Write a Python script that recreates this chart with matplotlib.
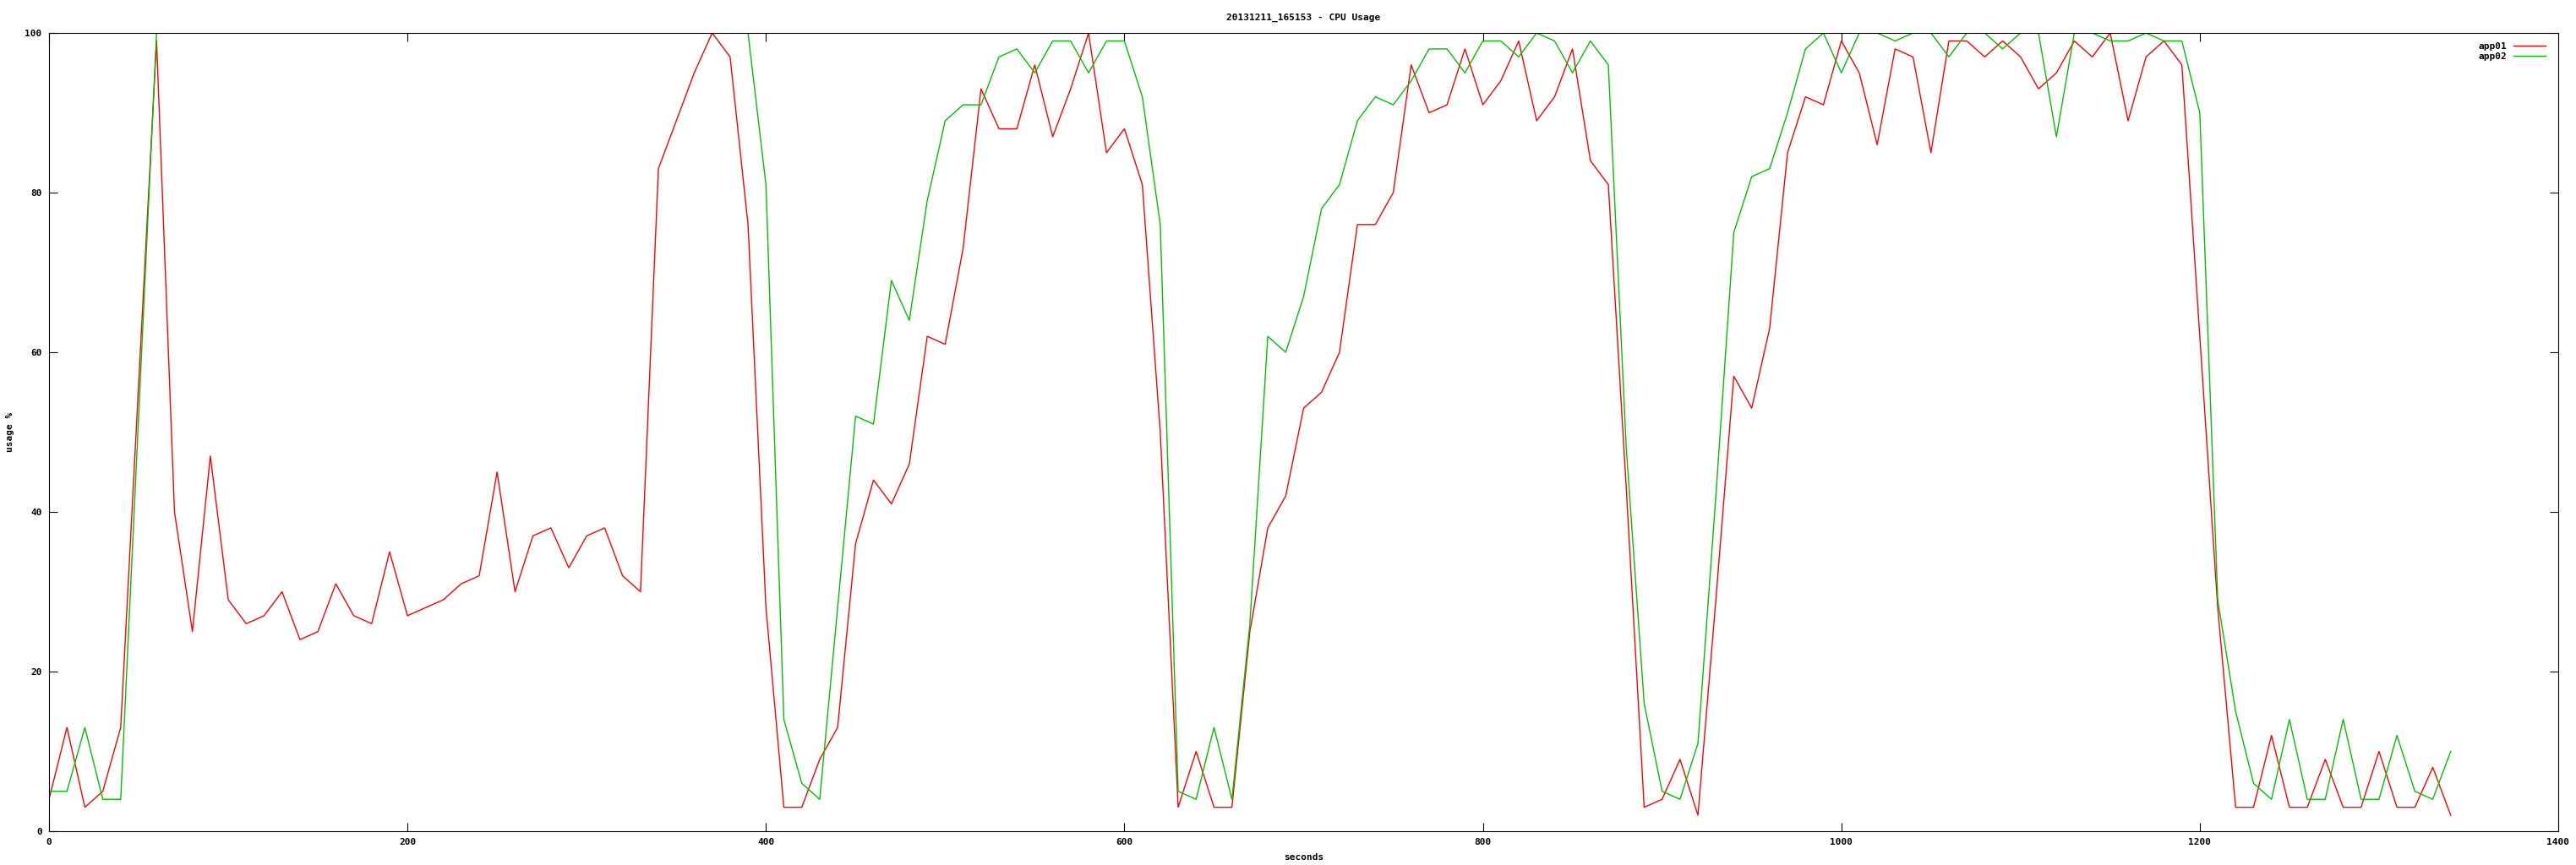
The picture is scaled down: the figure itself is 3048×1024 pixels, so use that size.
import matplotlib
matplotlib.use('Agg')
import matplotlib.pyplot as plt
import numpy as np

nan = np.nan

# samples taken every 10 seconds
seconds = list(range(0, 1350, 10))

app01 = [4, 13, 3, 5, 13, 56, 99, 40, 25, 47,
         29, 26, 27, 30, 24, 25, 31, 27, 26, 35,
         27, 28, 29, 31, 32, 45, 30, 37, 38, 33,
         37, 38, 32, 30, 83, 89, 95, 100, 97, 76,
         28, 3, 3, 9, 13, 36, 44, 41, 46, 62,
         61, 73, 93, 88, 88, 96, 87, 93, 100, 85,
         88, 81, 50, 3, 10, 3, 3, 25, 38, 42,
         53, 55, 60, 76, 76, 80, 96, 90, 91, 98,
         91, 94, 99, 89, 92, 98, 84, 81, 43, 3,
         4, 9, 2, 29, 57, 53, 63, 85, 92, 91,
         99, 95, 86, 98, 97, 85, 99, 99, 97, 99,
         97, 93, 95, 99, 97, 100, 89, 97, 99, 96,
         62, 28, 3, 3, 12, 3, 3, 9, 3, 3,
         10, 3, 3, 8, 2]

# app02 runs off the top of the chart between ~70s and ~380s
app02 = [5, 5, 13, 4, 4, 52, 100, nan, nan, nan,
         nan, nan, nan, nan, nan, nan, nan, nan, nan, nan,
         nan, nan, nan, nan, nan, nan, nan, nan, nan, nan,
         nan, nan, nan, nan, nan, nan, nan, nan, nan, 100,
         81, 14, 6, 4, 28, 52, 51, 69, 64, 79,
         89, 91, 91, 97, 98, 95, 99, 99, 95, 99,
         99, 92, 76, 5, 4, 13, 4, 26, 62, 60,
         67, 78, 81, 89, 92, 91, 94, 98, 98, 95,
         99, 99, 97, 100, 99, 95, 99, 96, 48, 16,
         5, 4, 11, 42, 75, 82, 83, 90, 98, 100,
         95, 100, 100, 99, 100, 100, 97, 100, 100, 98,
         100, 100, 87, 100, 100, 99, 99, 100, 99, 99,
         90, 29, 15, 6, 4, 14, 4, 4, 14, 4,
         4, 12, 5, 4, 10]

title = '20131211_165153 - CPU Usage'
xticks = [0, 200, 400, 600, 800, 1000, 1200, 1400]
yticks = [0, 20, 40, 60, 80, 100]

plt.rcParams['font.family'] = 'DejaVu Sans Mono'
plt.rcParams['font.weight'] = 'bold'
plt.rcParams['font.size'] = 8

W, H = 3048, 1024
left, right, top, bottom = 58, 3027, 39, 984
fig = plt.figure(figsize=(W / 100, H / 100), dpi=100)
ax = fig.add_axes([left / W, 1 - bottom / H, (right - left) / W, (bottom - top) / H])

ax.plot(seconds, app01, color='#ff0000', lw=1.0, label='app01')
ax.plot(seconds, app02, color='#00c000', lw=1.0, label='app02')

ax.set_xlim(0, 1400)
ax.set_ylim(0, 100)
ax.set_xticks(xticks)
ax.set_yticks(yticks)
ax.tick_params(direction='in', length=7, width=0.8, top=True, right=True,
               labelsize=8, pad=6)
for s in ax.spines.values():
    s.set_linewidth(0.8)

ax.set_title(title, fontsize=8, fontweight='bold', pad=11)
ax.set_xlabel('seconds', fontsize=8, fontweight='bold')
ax.set_ylabel('usage %', fontsize=8, fontweight='bold')
ax.xaxis.set_label_coords(0.5, (bottom - 1010) / (bottom - top))
ax.yaxis.set_label_coords((17 - left) / (right - left), 0.5)

ax.legend(loc='upper right', frameon=False, markerfirst=False,
          handlelength=3.5, handletextpad=0.7, labelspacing=0.25,
          borderaxespad=0.5, borderpad=0.45, fontsize=8,
          bbox_to_anchor=(1 - 4 / (right - left), 1))

fig.savefig('out.png', dpi=100, facecolor='white')
